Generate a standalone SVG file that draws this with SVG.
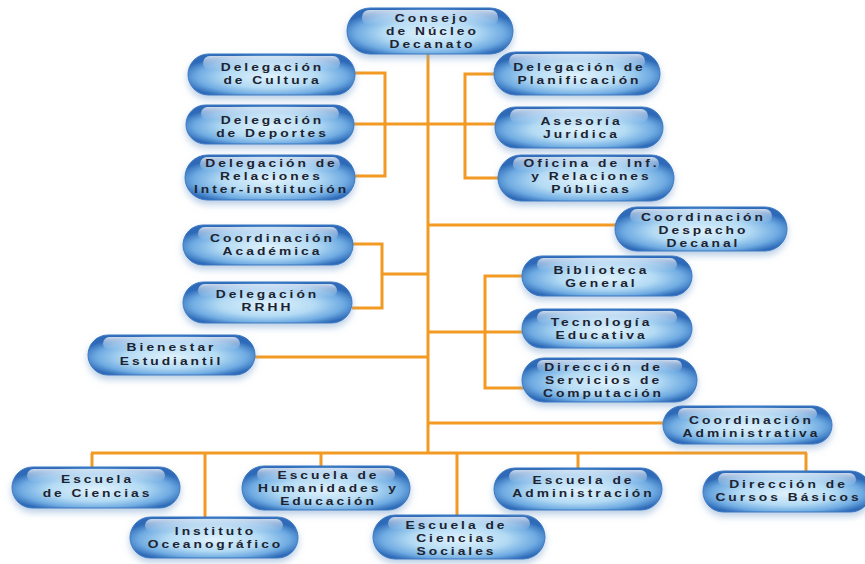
<svg xmlns="http://www.w3.org/2000/svg" width="865" height="564" viewBox="0 0 865 564">
<defs>
<radialGradient id="pill" cx="0.5" cy="0.55" r="0.56">
<stop offset="0" stop-color="#e0f2fc"/>
<stop offset="0.5" stop-color="#b4dbf4"/>
<stop offset="0.8" stop-color="#6fabe2"/>
<stop offset="1" stop-color="#2e6bb8"/>
</radialGradient>
<linearGradient id="gloss" x1="0" y1="0" x2="0" y2="1">
<stop offset="0" stop-color="#ffffff" stop-opacity="0.75"/>
<stop offset="1" stop-color="#ffffff" stop-opacity="0"/>
</linearGradient>
<filter id="sh" x="-20%" y="-30%" width="140%" height="180%">
<feDropShadow dx="0" dy="4" stdDeviation="3.5" flood-color="#7fa6d0" flood-opacity="0.55"/>
</filter>
</defs>
<style>
.b{fill:url(#pill);stroke:#3a78c2;stroke-width:1;filter:url(#sh)}
.g{fill:url(#gloss)}
.t{font-family:"Liberation Sans",Arial,sans-serif;font-weight:bold;font-size:11.5px;letter-spacing:2.5px;fill:#1d2330;text-anchor:middle}
.c{fill:none;stroke:#f29a22;stroke-width:3;stroke-linejoin:miter;stroke-linecap:butt}
</style>
<rect width="865" height="564" fill="#ffffff"/>

<g id="connectors" class="c">
<path d="M428,53 V453"/>
<path d="M355,73 H385 V176 H355"/>
<path d="M354,124 H497"/>
<path d="M495,74 H465 V178 H500"/>
<path d="M428,225 H617"/>
<path d="M352,244 H382 V308 H352 M382,274 H428"/>
<path d="M255,357 H428"/>
<path d="M524,276 H485 V388 H524 M428,332 H524"/>
<path d="M428,423 H663"/>
<path d="M91,453 H807"/>
<path d="M92,453 V468 M205,453 V517 M321,453 V467 M457,453 V515 M578,453 V468 M806,453 V472"/>
</g>

<g id="consejo">
<rect class="b" x="347" y="8" width="166" height="46" rx="23"/>
<rect class="g" x="362" y="10" width="136" height="15" rx="7"/>
<g transform="translate(431,0) scale(1.2,1)">
<text class="t" x="1.25" y="22">Consejo</text>
<text class="t" x="1.25" y="35">de Núcleo</text>
<text class="t" x="1.25" y="48">Decanato</text>
</g>
</g>

<g id="cultura">
<rect class="b" x="188" y="54" width="167" height="41" rx="20.5"/>
<rect class="g" x="203" y="56" width="137" height="14" rx="7"/>
<g transform="translate(271,0) scale(1.2,1)">
<text class="t" x="1.25" y="71">Delegación</text>
<text class="t" x="1.25" y="84">de Cultura</text>
</g>
</g>

<g id="deportes">
<rect class="b" x="186" y="105" width="168" height="39" rx="19.5"/>
<rect class="g" x="201" y="107" width="138" height="13" rx="6.5"/>
<g transform="translate(271,0) scale(1.2,1)">
<text class="t" x="1.25" y="124">Delegación</text>
<text class="t" x="1.25" y="137">de Deportes</text>
</g>
</g>

<g id="relaciones">
<rect class="b" x="185" y="155" width="170" height="45" rx="22.5"/>
<rect class="g" x="200" y="157" width="140" height="14" rx="7"/>
<g transform="translate(270,0) scale(1.2,1)">
<text class="t" x="1.25" y="167">Delegación de</text>
<text class="t" x="1.25" y="180">Relaciones</text>
<text class="t" x="1.25" y="193">Inter-institución</text>
</g>
</g>

<g id="planificacion">
<rect class="b" x="494" y="52" width="166" height="43" rx="21.5"/>
<rect class="g" x="509" y="54" width="136" height="14" rx="7"/>
<g transform="translate(578,0) scale(1.2,1)">
<text class="t" x="1.25" y="71">Delegación de</text>
<text class="t" x="1.25" y="84">Planificación</text>
</g>
</g>

<g id="asesoria">
<rect class="b" x="495" y="107" width="168" height="41" rx="20.5"/>
<rect class="g" x="510" y="109" width="138" height="14" rx="7"/>
<g transform="translate(580,0) scale(1.2,1)">
<text class="t" x="1.25" y="125">Asesoría</text>
<text class="t" x="1.25" y="138">Jurídica</text>
</g>
</g>

<g id="oficina">
<rect class="b" x="498" y="155" width="176" height="46" rx="23"/>
<rect class="g" x="513" y="157" width="146" height="14" rx="7"/>
<g transform="translate(590,0) scale(1.2,1)">
<text class="t" x="1.25" y="167">Oficina de Inf.</text>
<text class="t" x="1.25" y="180">y Relaciones</text>
<text class="t" x="1.25" y="193">Públicas</text>
</g>
</g>

<g id="despacho">
<rect class="b" x="615" y="207" width="172" height="44" rx="22"/>
<rect class="g" x="630" y="209" width="142" height="14" rx="7"/>
<g transform="translate(702,0) scale(1.2,1)">
<text class="t" x="1.25" y="221">Coordinación</text>
<text class="t" x="1.25" y="234">Despacho</text>
<text class="t" x="1.25" y="247">Decanal</text>
</g>
</g>

<g id="academica">
<rect class="b" x="183" y="225" width="170" height="40" rx="20"/>
<rect class="g" x="198" y="227" width="140" height="13" rx="6.5"/>
<g transform="translate(271,0) scale(1.2,1)">
<text class="t" x="1.25" y="242">Coordinación</text>
<text class="t" x="1.25" y="255">Académica</text>
</g>
</g>

<g id="rrhh">
<rect class="b" x="183" y="282" width="169" height="41" rx="20.5"/>
<rect class="g" x="198" y="284" width="139" height="13" rx="6.5"/>
<g transform="translate(266,0) scale(1.2,1)">
<text class="t" x="1.25" y="298">Delegación</text>
<text class="t" x="1.25" y="311">RRHH</text>
</g>
</g>

<g id="bienestar">
<rect class="b" x="88" y="335" width="167" height="40" rx="20"/>
<rect class="g" x="103" y="337" width="137" height="13" rx="6.5"/>
<g transform="translate(170,0) scale(1.2,1)">
<text class="t" x="1.25" y="351">Bienestar</text>
<text class="t" x="1.25" y="365">Estudiantil</text>
</g>
</g>

<g id="biblioteca">
<rect class="b" x="522" y="256" width="170" height="40" rx="20"/>
<rect class="g" x="537" y="258" width="140" height="13" rx="6.5"/>
<g transform="translate(600,0) scale(1.2,1)">
<text class="t" x="1.25" y="274">Biblioteca</text>
<text class="t" x="1.25" y="287">General</text>
</g>
</g>

<g id="tecnologia">
<rect class="b" x="522" y="309" width="170" height="39" rx="19.5"/>
<rect class="g" x="537" y="311" width="140" height="13" rx="6.5"/>
<g transform="translate(600,0) scale(1.2,1)">
<text class="t" x="1.25" y="326">Tecnología</text>
<text class="t" x="1.25" y="339">Educativa</text>
</g>
</g>

<g id="servicios">
<rect class="b" x="522" y="358" width="175" height="44" rx="22"/>
<rect class="g" x="537" y="360" width="145" height="12" rx="6"/>
<g transform="translate(602,0) scale(1.2,1)">
<text class="t" x="1.25" y="371">Dirección de</text>
<text class="t" x="1.25" y="384">Servicios de</text>
<text class="t" x="1.25" y="397">Computación</text>
</g>
</g>

<g id="administrativa">
<rect class="b" x="663" y="406" width="169" height="38" rx="19"/>
<rect class="g" x="678" y="408" width="139" height="12" rx="6"/>
<g transform="translate(750,0) scale(1.2,1)">
<text class="t" x="1.25" y="424">Coordinación</text>
<text class="t" x="1.25" y="437">Administrativa</text>
</g>
</g>

<g id="ciencias">
<rect class="b" x="12" y="467" width="168" height="41" rx="20.5"/>
<rect class="g" x="27" y="469" width="138" height="13" rx="6.5"/>
<g transform="translate(96,0) scale(1.2,1)">
<text class="t" x="1.25" y="483">Escuela</text>
<text class="t" x="1.25" y="497">de Ciencias</text>
</g>
</g>

<g id="instituto">
<rect class="b" x="130" y="517" width="168" height="41" rx="20.5"/>
<rect class="g" x="145" y="519" width="138" height="13" rx="6.5"/>
<g transform="translate(214,0) scale(1.2,1)">
<text class="t" x="1.25" y="535">Instituto</text>
<text class="t" x="1.25" y="548">Oceanográfico</text>
</g>
</g>

<g id="humanidades">
<rect class="b" x="242" y="466" width="168" height="44" rx="22"/>
<rect class="g" x="257" y="468" width="138" height="13" rx="6.5"/>
<g transform="translate(327,0) scale(1.2,1)">
<text class="t" x="1.25" y="479">Escuela de</text>
<text class="t" x="1.25" y="492">Humanidades y</text>
<text class="t" x="1.25" y="505">Educación</text>
</g>
</g>

<g id="sociales">
<rect class="b" x="373" y="515" width="172" height="44" rx="22"/>
<rect class="g" x="388" y="517" width="142" height="13" rx="6.5"/>
<g transform="translate(455,0) scale(1.2,1)">
<text class="t" x="1.25" y="529">Escuela de</text>
<text class="t" x="1.25" y="542">Ciencias</text>
<text class="t" x="1.25" y="555">Sociales</text>
</g>
</g>

<g id="administracion">
<rect class="b" x="494" y="468" width="168" height="42" rx="21"/>
<rect class="g" x="509" y="470" width="138" height="13" rx="6.5"/>
<g transform="translate(582,0) scale(1.2,1)">
<text class="t" x="1.25" y="484">Escuela de</text>
<text class="t" x="1.25" y="497">Administración</text>
</g>
</g>

<g id="cursos">
<rect class="b" x="703" y="471" width="168" height="41" rx="20.5"/>
<rect class="g" x="718" y="473" width="138" height="13" rx="6.5"/>
<g transform="translate(787,0) scale(1.2,1)">
<text class="t" x="1.25" y="488">Dirección de</text>
<text class="t" x="1.25" y="501">Cursos Básicos</text>
</g>
</g>
</svg>
